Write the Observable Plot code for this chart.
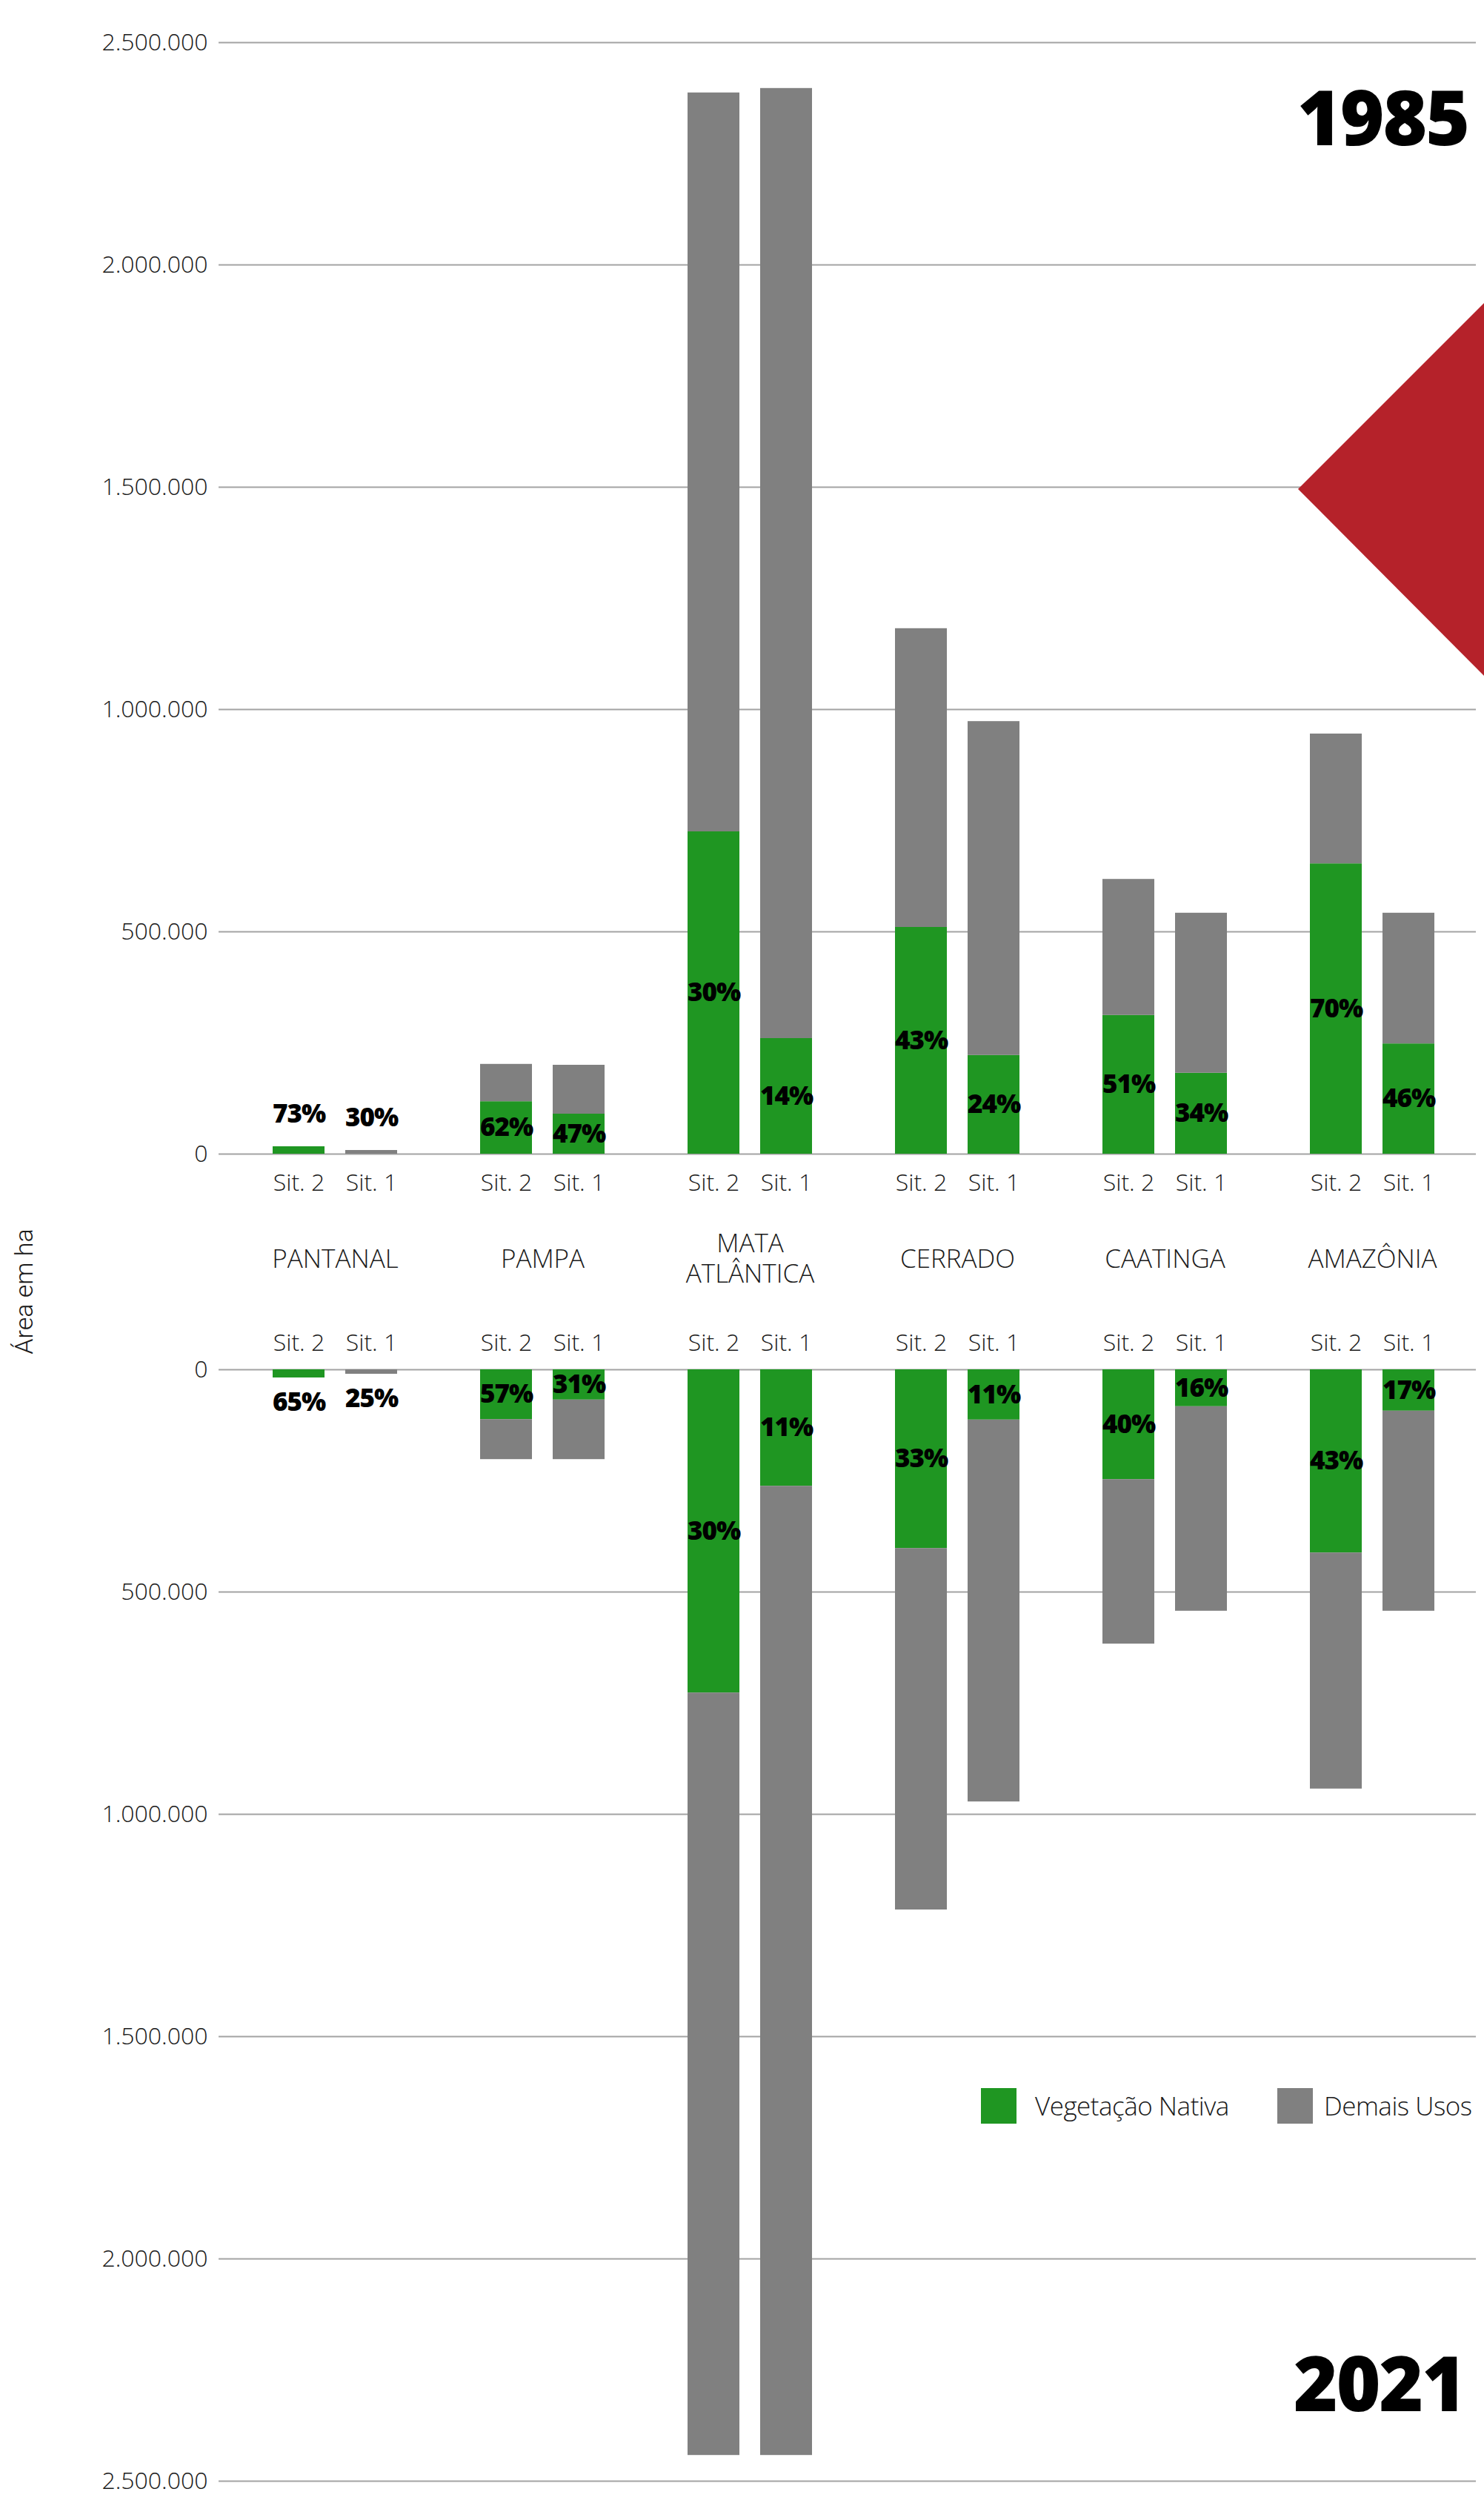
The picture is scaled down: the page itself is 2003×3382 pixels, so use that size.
<!DOCTYPE html>
<html>
<head>
<meta charset="utf-8">
<script src="https://cdn.jsdelivr.net/npm/d3@7"></script>
<script src="https://cdn.jsdelivr.net/npm/@observablehq/plot@0.6"></script>
<style>
html, body { margin: 0; padding: 0; background: #fff; }
#root { position: relative; width: 2003px; height: 3382px; overflow: hidden; font-family: "Open Sans", sans-serif; }
#top, #bottom { position: absolute; left: 0; }
#top { top: 0; }
#bottom { top: 1740px; }
.pct text { letter-spacing: -1px; }
#overlay { position: absolute; left: 0; top: 0; pointer-events: none; }
.lg-sw { position: absolute; width: 48px; height: 48px; }
.lg-tx { position: absolute; font-family: "Open Sans", sans-serif; font-weight: 300; font-size: 35px; line-height: 48px; color: #1a1a1a; white-space: nowrap; letter-spacing: -0.5px; }
</style>
</head>
<body>
<div id="root">
  <div id="top"></div>
  <div id="bottom"></div>
  <svg id="overlay" width="2003" height="3382"></svg>
  <div id="legend"></div>
</div>
<script>
// ---------- data ----------
const biomes = ["PANTANAL", "PAMPA", "MATA ATLÂNTICA", "CERRADO", "CAATINGA", "AMAZÔNIA"];
const biomeLabels = ["PANTANAL", "PAMPA", "MATA\nATLÂNTICA", "CERRADO", "CAATINGA", "AMAZÔNIA"];
const situations = ["Sit. 2", "Sit. 1"];
const landUses = ["Vegetação Nativa", "Demais Usos"];
const useColors = ["#1f9622", "#808080"];
const yTicks = [0, 500000, 1000000, 1500000, 2000000, 2500000];
const years = ["1985", "2021"];

// 1985 (area in ha)
const native1985Sit2 = [16700, 118000, 725000, 510000, 312000, 653000];
const total1985Sit2  = [16700, 202000, 2387000, 1182000, 618000, 945000];
const pct1985Sit2    = ["73%", "62%", "30%", "43%", "51%", "70%"];
const native1985Sit1 = [0, 90000, 260000, 222000, 182000, 248000];
const total1985Sit1  = [8300, 200000, 2397000, 973000, 542000, 542000];
const pct1985Sit1    = ["30%", "47%", "14%", "24%", "34%", "46%"];

// 2021 (area in ha)
const native2021Sit2 = [18300, 112000, 727000, 402000, 247000, 412000];
const total2021Sit2  = [18300, 202000, 2442000, 1215000, 617000, 943000];
const pct2021Sit2    = ["65%", "57%", "30%", "33%", "40%", "43%"];
const native2021Sit1 = [0, 68000, 262000, 113000, 83000, 93000];
const total2021Sit1  = [10000, 202000, 2442000, 972000, 543000, 543000];
const pct2021Sit1    = ["25%", "31%", "11%", "11%", "16%", "17%"];

// ---------- helpers ----------
function buildRows(nat2, tot2, pct2, nat1, tot1, pct1) {
  const rows = [];
  biomes.forEach((b, i) => {
    rows.push({biome: b, sit: situations[0], native: nat2[i], total: tot2[i], pct: pct2[i]});
    rows.push({biome: b, sit: situations[1], native: nat1[i], total: tot1[i], pct: pct1[i]});
  });
  return rows;
}
function toLong(rows) {
  return rows.flatMap(d => [
    {biome: d.biome, sit: d.sit, use: landUses[0], value: d.native},
    {biome: d.biome, sit: d.sit, use: landUses[1], value: d.total - d.native}
  ]);
}
const fmt = d => d3.format(",")(d).replace(/,/g, ".");

function chart(rows, isTop) {
  const long = toLong(rows);
  const inside = rows.filter(d => d.total >= 30000);
  const outside = rows.filter(d => d.total < 30000);
  const marks = [
    Plot.ruleY(yTicks, {stroke: "#a3a3a3", strokeWidth: 2}),
    Plot.barY(long, {fx: "biome", x: "sit", y: "value", fill: "use"}),
    Plot.text(inside, {fx: "biome", x: "sit", y: d => d.native / 2, text: "pct",
      fontFamily: "Open Sans", fontWeight: 800, fontSize: 35, fill: "#000", className: "pct"}),
    Plot.text(outside, {fx: "biome", x: "sit", y: "total", dy: isTop ? -44 : 33, text: "pct",
      fontFamily: "Open Sans", fontWeight: 800, fontSize: 35, fill: "#000", className: "pct"}),
    Plot.axisY({ticks: yTicks, tickSize: 17, tickPadding: 15, stroke: "#a3a3a3", strokeWidth: 2,
      fill: "#1a1a1a", tickFormat: fmt, fontSize: 32, label: null}),
    Plot.axisX({anchor: isTop ? "bottom" : "top", tickSize: 0, tickPadding: isTop ? 27 : 26,
      fill: "#1a1a1a", fontSize: 32, label: null})
  ];
  if (isTop) {
    marks.push(Plot.text(biomes, {fx: d => d, text: (d, i) => biomeLabels[i], frameAnchor: "bottom",
      lineAnchor: "middle", dy: 140, lineHeight: 1.18, fontSize: 35, fill: "#1a1a1a"}));
  }
  return Plot.plot({
    width: 2003,
    height: isTop ? 1740 : 1642,
    marginLeft: 312,
    marginRight: 11,
    marginTop: isTop ? 57 : 108,
    marginBottom: isTop ? 183 : 34,
    fx: {domain: biomes, padding: 0, axis: null, label: null},
    x: {domain: situations, paddingInner: 0.283, paddingOuter: 0.556, label: null},
    y: {domain: [0, 2500000], reverse: !isTop, label: null},
    color: {domain: landUses, range: useColors},
    style: {fontFamily: "Open Sans", fontWeight: 300, fontSize: "32px", background: "transparent", color: "#1a1a1a", overflow: "visible"},
    marks
  });
}

const rows1985 = buildRows(native1985Sit2, total1985Sit2, pct1985Sit2, native1985Sit1, total1985Sit1, pct1985Sit1);
const rows2021 = buildRows(native2021Sit2, total2021Sit2, pct2021Sit2, native2021Sit1, total2021Sit1, pct2021Sit1);

document.getElementById("top").appendChild(chart(rows1985, true));
document.getElementById("bottom").appendChild(chart(rows2021, false));

// ---------- overlay: decoration, year titles, y label ----------
const ns = "http://www.w3.org/2000/svg";
const ov = document.getElementById("overlay");
const tri = document.createElementNS(ns, "polygon");
tri.setAttribute("points", "1752,660 2003,409 2003,912");
tri.setAttribute("fill", "#b5222a");
ov.appendChild(tri);

[[years[0], 1982, 196], [years[1], 1977, 3254]].forEach(([t, x, y]) => {
  const e = document.createElementNS(ns, "text");
  e.setAttribute("x", x); e.setAttribute("y", y);
  e.setAttribute("text-anchor", "end");
  e.setAttribute("font-family", "Open Sans");
  e.setAttribute("font-weight", "800");
  e.setAttribute("font-size", "102");
  e.setAttribute("letter-spacing", "-2");
  e.setAttribute("fill", "#000");
  e.textContent = t;
  ov.appendChild(e);
});

const yl = document.createElementNS(ns, "text");
yl.setAttribute("transform", "translate(44,1743) rotate(-90)");
yl.setAttribute("text-anchor", "middle");
yl.setAttribute("font-family", "Roboto");
yl.setAttribute("font-weight", "300");
yl.setAttribute("font-size", "34");
yl.setAttribute("fill", "#1a1a1a");
yl.textContent = "Área em ha";
ov.appendChild(yl);

// ---------- legend ----------
const lg = document.getElementById("legend");
const lgPos = [[1324, 1397], [1724, 1787]];
landUses.forEach((u, i) => {
  const sw = document.createElement("div");
  sw.className = "lg-sw";
  sw.style.left = lgPos[i][0] + "px"; sw.style.top = "2818px";
  sw.style.background = useColors[i];
  lg.appendChild(sw);
  const tx = document.createElement("div");
  tx.className = "lg-tx";
  tx.style.left = lgPos[i][1] + "px"; tx.style.top = "2818px";
  tx.textContent = u;
  lg.appendChild(tx);
});
</script>
</body>
</html>
